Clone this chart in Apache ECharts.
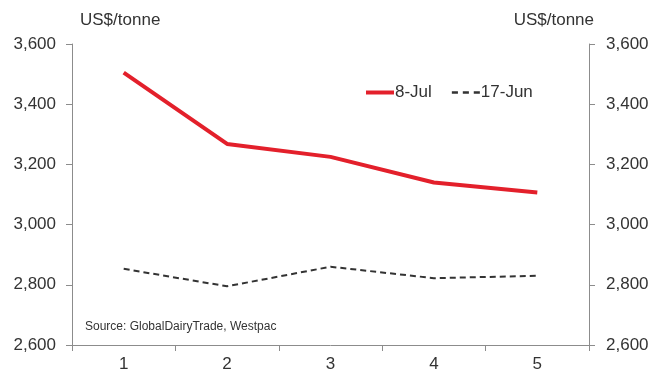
<!DOCTYPE html>
<html>
<head>
<meta charset="utf-8">
<script src="https://cdn.jsdelivr.net/npm/echarts@6/dist/echarts.min.js"></script>
<style>
  html, body { margin: 0; padding: 0; background: #fff; }
  #chart { width: 654px; height: 372px; }
</style>
</head>
<body>
<div id="chart"></div>
<script>
const categories = ['1', '2', '3', '4', '5'];
const jul8 = [3505, 3268, 3225, 3140, 3107];
const jun17 = [2853, 2795, 2860, 2822, 2830];

const axisColor = '#8c8c8c';
const labelColor = '#333';
const font = 'Arial, "Liberation Sans", sans-serif';

function valueAxis(pos) {
  return {
    type: 'value',
    position: pos,
    min: 2600,
    max: 3600,
    interval: 200,
    axisLine: { show: true, lineStyle: { color: axisColor, width: 1 } },
    axisTick: { show: true, length: 6, lineStyle: { color: axisColor } },
    splitLine: { show: false },
    axisLabel: {
      color: labelColor, fontSize: 17, fontFamily: font, margin: pos === 'left' ? 16 : 17,
      formatter: v => v.toLocaleString('en-US')
    }
  };
}

const chart = echarts.init(document.getElementById('chart'), null, { renderer: 'canvas' });
chart.setOption({
  animation: false,
  backgroundColor: '#fff',
  grid: { left: 72, right: 65, top: 44, bottom: 27, containLabel: false, outerBoundsMode: 'none' },
  legend: {
    top: 79, left: 361,
    itemWidth: 28, itemHeight: 10, itemGap: 20,
    textStyle: { color: labelColor, fontSize: 17, fontFamily: font, padding: [0, 0, 0, -4] },
    data: [
      { name: '8-Jul', icon: 'path://M0,0 L28,0 L28,4 L0,4 Z' },
      { name: '17-Jun', icon: 'path://M0,0 L5,0 L5,2 L0,2 Z M9,0 L14,0 L14,2 L9,2 Z M18,0 L23,0 L23,2 L18,2 Z' }
    ]
  },
  graphic: [
    { type: 'text', left: 80, top: 12, style: { text: 'US$/tonne', fill: labelColor, font: '17px ' + font } },
    { type: 'text', right: 60, top: 12, style: { text: 'US$/tonne', fill: labelColor, font: '17px ' + font } },
    { type: 'text', left: 85, top: 321, style: { text: 'Source: GlobalDairyTrade, Westpac', fill: labelColor, font: '12px ' + font } }
  ],
  xAxis: {
    type: 'category',
    data: categories,
    boundaryGap: true,
    axisLine: { lineStyle: { color: axisColor } },
    axisTick: { show: true, length: 6, alignWithLabel: false, lineStyle: { color: axisColor } },
    axisLabel: { color: labelColor, fontSize: 17, fontFamily: font, margin: 11 }
  },
  yAxis: [valueAxis('left'), valueAxis('right')],
  series: [
    {
      name: '8-Jul', type: 'line', data: jul8, symbol: 'none',
      lineStyle: { color: '#e3202b', width: 4 }, itemStyle: { color: '#e3202b' }
    },
    {
      name: '17-Jun', type: 'line', data: jun17, symbol: 'none',
      lineStyle: { color: '#333', width: 2, type: [6, 4] }, itemStyle: { color: '#333' }
    }
  ]
});
</script>
</body>
</html>
